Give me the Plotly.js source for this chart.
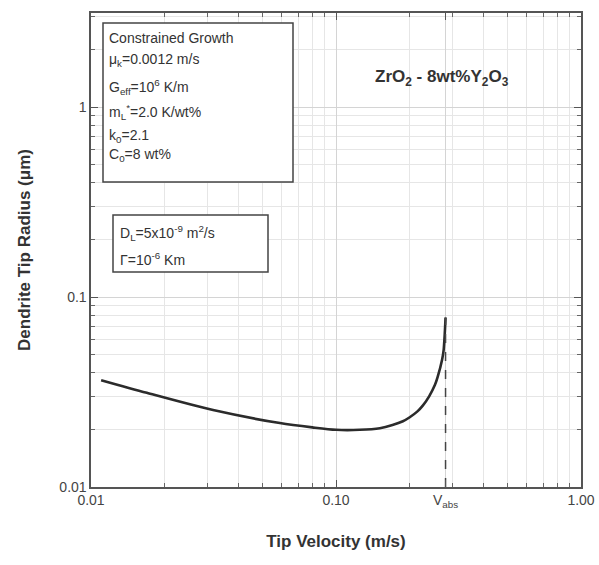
<!DOCTYPE html>
<html>
<head>
<meta charset="utf-8">
<script src="https://cdn.plot.ly/plotly-3.0.1.min.js"></script>
<style>html,body{margin:0;padding:0;background:#fff;}#chart{width:599px;height:565px;}</style>
</head>
<body>
<div id="chart"></div>
<script>
// Data
var tipVelocity = [0.011, 0.0169, 0.0315, 0.059, 0.08, 0.1, 0.125, 0.151, 0.17, 0.1875, 0.2, 0.215, 0.226, 0.24, 0.2535, 0.26, 0.271, 0.275, 0.278, 0.28];
var tipRadius   = [0.0365, 0.0313, 0.0254, 0.0217, 0.0206, 0.0200, 0.0200, 0.0204, 0.0212, 0.0222, 0.0233, 0.0250, 0.0268, 0.0300, 0.0345, 0.038, 0.0468, 0.0526, 0.0646, 0.078];
var vAbs = 0.28;
var vAbsRadius = [0.01, 0.078];
var xTickVals = [0.01, 0.1, vAbs, 1];
var xTickText = ["0.01", "0.10", "V<sub>abs</sub>", "1.00"];
var yTickVals = [0.01, 0.1, 1];
var yTickText = ["0.01", "0.1", "1"];
var xMinorVals = [0.02,0.03,0.04,0.05,0.06,0.07,0.08,0.09,0.2,0.3,0.4,0.5,0.6,0.7,0.8,0.9];
var yMinorVals = [0.02,0.03,0.04,0.05,0.06,0.07,0.08,0.09,0.2,0.3,0.4,0.5,0.6,0.7,0.8,0.9,2,3];
var boxLines1 = ["Constrained Growth", "μ<sub>k</sub>=0.0012 m/s", "G<sub>eff</sub>=10<sup>6</sup> K/m",
                 "m<sub>L</sub><sup>*</sup>=2.0 K/wt%", "k<sub>0</sub>=2.1", "C<sub>0</sub>=8 wt%"];
var boxLines2 = ["D<sub>L</sub>=5x10<sup>-9</sup> m<sup>2</sup>/s", "Γ=10<sup>-6</sup> Km"];
var alloyLabel = "ZrO<sub>2</sub> - 8wt%Y<sub>2</sub>O<sub>3</sub>";

var FONT = "Arial, 'Liberation Sans', Helvetica, sans-serif";
var TXT = "#333";

var traces = [
  {x: tipVelocity, y: tipRadius, mode: "lines", type: "scatter",
   line: {color: "#2b2b2b", width: 2.6, shape: "spline", smoothing: 0.8}, hoverinfo: "none"},
  {x: [vAbs, vAbs], y: vAbsRadius, mode: "lines", type: "scatter",
   line: {color: "#444", width: 1.5, dash: "dash"}, hoverinfo: "none"}
];

// paper coordinates of plot area: x 91..581, y 13..487
function px(x){ return (x-91)/490; }
function py(y){ return 1-(y-13)/474; }

var annotations = [];
var ys1 = [38, 60, 87, 112, 136, 155];
boxLines1.forEach(function(t,i){
  annotations.push({xref:"paper", yref:"paper", x:px(107), y:py(ys1[i]), xanchor:"left", yanchor:"middle",
    text:t, showarrow:false, font:{family:FONT, size:14, color:TXT}});
});
var ys2 = [233, 259];
boxLines2.forEach(function(t,i){
  annotations.push({xref:"paper", yref:"paper", x:px(118), y:py(ys2[i]), xanchor:"left", yanchor:"middle",
    text:t, showarrow:false, font:{family:FONT, size:14, color:TXT}});
});
annotations.push({xref:"paper", yref:"paper", x:px(442), y:py(78), xanchor:"center", yanchor:"middle",
  text:"<b>"+alloyLabel+"</b>", showarrow:false, font:{family:FONT, size:17, color:TXT}});

var shapes = [
  {type:"rect", xref:"paper", yref:"paper", x0:px(103), x1:px(293), y0:py(182), y1:py(23),
   line:{color:"#444", width:1.5}, fillcolor:"rgba(255,255,255,1)", layer:"above"},
  {type:"rect", xref:"paper", yref:"paper", x0:px(113), x1:px(268), y0:py(272), y1:py(215),
   line:{color:"#444", width:1.5}, fillcolor:"rgba(255,255,255,1)", layer:"above"}
];

var layout = {
  width: 599, height: 565,
  margin: {l: 91, r: 18, t: 13, b: 78, pad: 0},
  paper_bgcolor: "#fff", plot_bgcolor: "#fff",
  showlegend: false,
  font: {family: FONT, color: TXT},
  xaxis: {
    type: "log", range: [-2, 0],
    tickmode: "array", tickvals: xTickVals, ticktext: xTickText,
    tickfont: {family: FONT, size: 14, color: "#444"},
    ticks: "inside", ticklen: 7, tickcolor: "#555", tickwidth: 1,
    showgrid: true, gridcolor: "#d4d4d4", gridwidth: 1,
    minor: {tickmode: "array", tickvals: xMinorVals, ticks: "inside", ticklen: 4, tickcolor: "#666",
            showgrid: true, gridcolor: "#e6e6e6", gridwidth: 1},
    showline: true, linecolor: "#555", linewidth: 1.6, mirror: "ticks",
    zeroline: false,
    title: {text: "<b>Tip Velocity (m/s)</b>", font: {family: FONT, size: 17, color: TXT}, standoff: 26}
  },
  yaxis: {
    type: "log", range: [-2, 0.495],
    tickmode: "array", tickvals: yTickVals, ticktext: yTickText,
    tickfont: {family: FONT, size: 14, color: "#444"},
    ticks: "inside", ticklen: 7, tickcolor: "#555", tickwidth: 1,
    showgrid: true, gridcolor: "#d4d4d4", gridwidth: 1,
    minor: {tickmode: "array", tickvals: yMinorVals, ticks: "inside", ticklen: 4, tickcolor: "#666",
            showgrid: true, gridcolor: "#e6e6e6", gridwidth: 1},
    showline: true, linecolor: "#555", linewidth: 1.6, mirror: "ticks",
    zeroline: false,
    title: {text: "<b>Dendrite Tip Radius (μm)</b>", font: {family: FONT, size: 17, color: TXT}, standoff: 24}
  },
  annotations: annotations,
  shapes: shapes
};

Plotly.newPlot("chart", traces, layout, {displayModeBar: false, staticPlot: true});
</script>
</body>
</html>
